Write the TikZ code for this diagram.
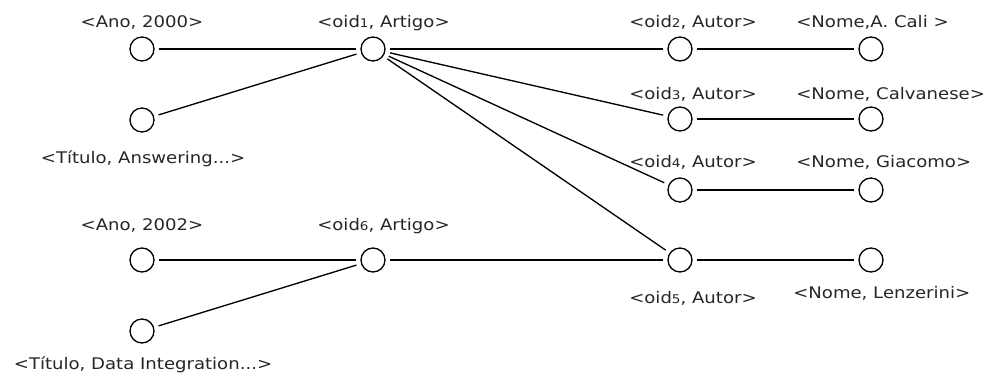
\documentclass[tikz,border=0pt]{standalone}
\usepackage{fontspec}
\setmainfont[FakeStretch=1.13]{DejaVu Sans}
\usetikzlibrary{positioning}

% small index digit after "oid"
\newcommand{\oidn}[1]{oid{\fontsize{9}{10}\selectfont #1}}

\begin{document}
\begin{tikzpicture}[
    x=0.75pt, y=-0.75pt,
    every node/.style={font=\fontsize{12}{14}\selectfont},
    obj/.style={circle, draw, line width=1pt, minimum size=18pt, inner sep=0pt, outer sep=4pt},
    lbl/.style={inner sep=0pt, text=black!85},
    edge/.style={draw, line width=1pt}
]
\useasboundingbox (0,0) rectangle (989,374);

% -------- Objects: first article --------
\node[obj] (ano1)  at (142,49)  {};
\node[obj] (tit1)  at (142,120) {};
\node[obj] (art1)  at (373,49)  {};

% -------- Objects: authors and names --------
\node[obj] (aut2)  at (680,49)  {};
\node[obj] (aut3)  at (680,119) {};
\node[obj] (aut4)  at (680,190) {};
\node[obj] (aut5)  at (680,260) {};
\node[obj] (nom2)  at (871,49)  {};
\node[obj] (nom3)  at (871,119) {};
\node[obj] (nom4)  at (871,190) {};
\node[obj] (nom5)  at (871,260) {};

% -------- Objects: second article --------
\node[obj] (ano6)  at (142,260) {};
\node[obj] (tit6)  at (142,331) {};
\node[obj] (art6)  at (373,260) {};

% -------- Labels --------
\node[lbl, anchor=base]      (l-ano1) at (142,28)  {<Ano, 2000>};
\node[lbl, anchor=base]      (l-tit1) at (143,164) {<Título, Answering...>};
\node[lbl, anchor=base west] (l-art1) at (317,28)  {<\oidn{1}, Artigo>};
\node[lbl, anchor=base west] (l-aut2) at (629,28)  {<\oidn{2}, Autor>};
\node[lbl, anchor=base west] (l-aut3) at (629,100) {<\oidn{3}, Autor>};
\node[lbl, anchor=base west] (l-aut4) at (629,168) {<\oidn{4}, Autor>};
\node[lbl, anchor=base west] (l-aut5) at (629,303) {<\oidn{5}, Autor>};
\node[lbl, anchor=base west] (l-nom2) at (796,28)  {<Nome,A. Cali >};
\node[lbl, anchor=base west] (l-nom3) at (796,100) {<Nome, Calvanese>};
\node[lbl, anchor=base west] (l-nom4) at (796,168) {<Nome, Giacomo>};
\node[lbl, anchor=base west] (l-nom5) at (793,298) {<Nome, Lenzerini>};
\node[lbl, anchor=base]      (l-ano6) at (142,231) {<Ano, 2002>};
\node[lbl, anchor=base west] (l-art6) at (317,231) {<\oidn{6}, Artigo>};
\node[lbl, anchor=base]      (l-tit6) at (143,369) {<Título, Data Integration...>};

% -------- Edges --------
\draw[edge] (ano1) -- (art1);
\draw[edge] (tit1) -- (art1);
\foreach \i in {2,...,5}
    \draw[edge] (art1) -- (aut\i);
\foreach \i in {2,...,5}
    \draw[edge] (aut\i) -- (nom\i);
\draw[edge] (ano6) -- (art6);
\draw[edge] (tit6) -- (art6);
\draw[edge] (art6) -- (aut5);

\end{tikzpicture}
\end{document}
